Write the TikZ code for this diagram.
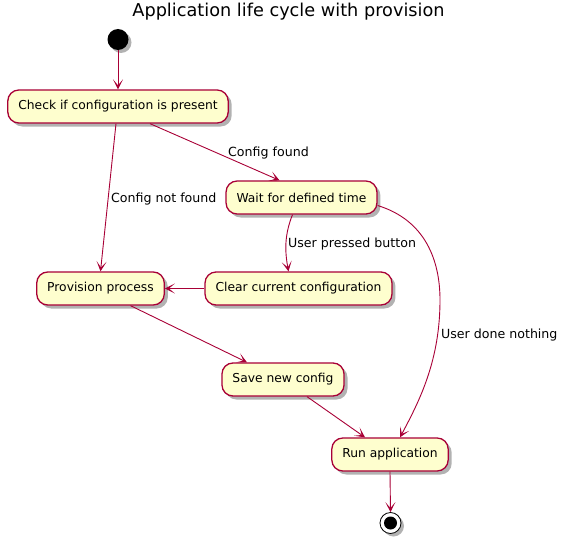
\documentclass[tikz,border=0pt]{standalone}
\usepackage{fontspec}
\setmainfont{DejaVu Sans}
\usepackage{tikz}
\usetikzlibrary{arrows.meta,positioning,shapes,shadows,calc}

\definecolor{umlfill}{HTML}{FEFECE}
\definecolor{umlline}{HTML}{A80036}

\begin{document}
\begin{tikzpicture}[
  x=1pt, y=-1pt,
  box/.style={rectangle, rounded corners=11pt, draw=umlline, line width=1.3pt, fill=umlfill, align=center, minimum height=33pt, inner xsep=10.5pt, font=\fontsize{12.3}{14}\selectfont, drop shadow={shadow xshift=3.5pt, shadow yshift=-3.5pt, fill=black, opacity=0.3}},
  lbl/.style={anchor=west, inner sep=0pt, font=\fontsize{12.6}{14}\selectfont},
  arrow/.style={-{Stealth[length=10pt, width=10pt, inset=6pt]}, draw=umlline, line width=0.9pt}
]
\useasboundingbox (0,0) rectangle (568,543);

\node[font=\fontsize{17.7}{20}\selectfont] (title) at (288.5,12) {Application life cycle with provision};

% start and end
\node[circle, fill=black, minimum size=21pt, inner sep=0pt, drop shadow={shadow xshift=3pt, shadow yshift=-3pt, fill=black, opacity=0.3}] (start) at (118,39.5) {};
\node[circle, draw=black, line width=0.8pt, fill=white, minimum size=21pt, inner sep=0pt, drop shadow={shadow xshift=3pt, shadow yshift=-3pt, fill=black, opacity=0.3}] (stop) at (390.5,523) {};
\node[circle, fill=black, minimum size=13pt, inner sep=0pt] (stopdot) at (stop) {};

% states
\node[box] (check) at (118,106.5) {Check if configuration is present};
\node[box] (wait) at (301.5,197.5) {Wait for defined time};
\node[box] (prov) at (100.5,288.5) {Provision process};
\node[box] (clear) at (298.5,288.5) {Clear current configuration};
\node[box] (save) at (283,379.5) {Save new config};
\node[box] (run) at (390,454.5) {Run application};

% transitions
\draw[arrow] (start) -- (check);
\draw[arrow] ([xshift=-2pt]check.south) -- (prov.north);
\draw[arrow] ([xshift=32pt]check.south) -- ([xshift=-22pt]wait.north);
\draw[arrow] ([xshift=-9pt]wait.south) .. controls (284,236) and (285,252) .. ([xshift=-10pt]clear.north);
\draw[arrow] (wait.-6) .. controls (425,220) and (440,260) .. (440,300) .. controls (440,360) and (420,400) .. ([xshift=10pt]run.north);
\draw[arrow] (clear.west) -- (prov.east);
\draw[arrow] ([xshift=30pt]prov.south) -- ([xshift=-36pt]save.north);
\draw[arrow] ([xshift=24pt]save.south) -- ([xshift=-25pt]run.north);
\draw[arrow] (run.south) -- (stop.north);

% labels
\node[lbl] (lnotfound) at (111,199) {Config not found};
\node[lbl] (lfound) at (228,153) {Config found};
\node[lbl] (lpressed) at (288,244) {User pressed button};
\node[lbl] (lnothing) at (441,335) {User done nothing};

\end{tikzpicture}
\end{document}
